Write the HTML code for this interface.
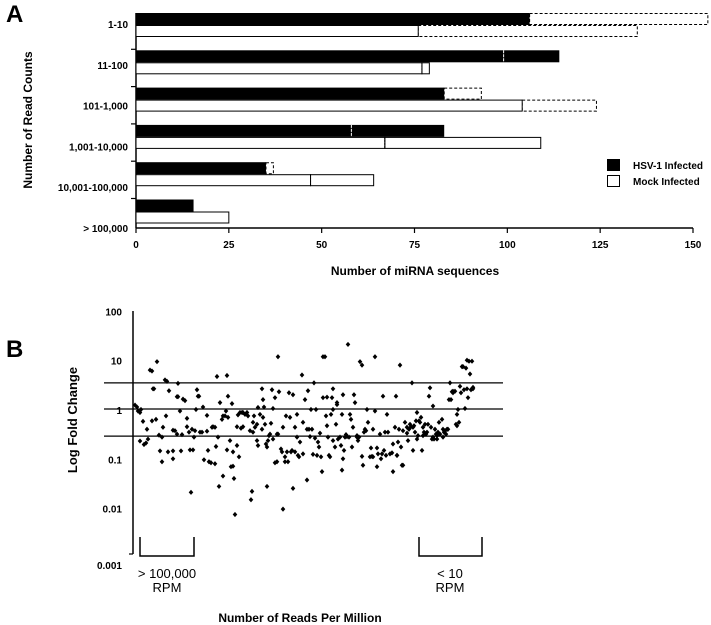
<!DOCTYPE html>
<html><head><meta charset="utf-8"><style>
body{margin:0;background:#fff;}
svg{display:block;font-family:"Liberation Sans",Arial,sans-serif;}
.lbl{font-family:"Liberation Sans Narrow","Liberation Sans",sans-serif;font-weight:bold;font-size:10px;}
</style></head><body>
<svg id="fig" width="711" height="625" viewBox="0 0 711 625">
<text x="6" y="22" font-size="24" font-weight="bold">A</text>
<text x="6" y="357" font-size="24" font-weight="bold">B</text>
<g id="pa"></g>
<g id="pb"></g>
</svg>
<script>
// ---------- Panel A data ----------
const categories = ["1-10","11-100","101-1,000","1,001-10,000","10,001-100,000","> 100,000"];
const hsvBase = [106, 99, 83, 58, 35, 15.5];
const hsvTotal = [154, 114, 93, 83, 37, 15.5];
const hsvExtDashed = [true, false, true, false, true, false];
const mockBase = [76, 77, 104, 67, 47, 25];
const mockTotal = [135, 79, 124, 109, 64, 25];
const mockExtDashed = [true, false, true, false, false, false];
const xTicks = [0, 25, 50, 75, 100, 125, 150];
// ---------- Panel B data ----------
const rpmRank = [2,4,5,7,8,7,10,11,13,14,15,17,19,20,21,19,23,24,26,27,29,29,30,32,34,33,35,36,40,40,40,42,44,44,45,45,47,48,49,50,52,54,54,56,57,58,59,60,61,62,63,64,65,66,67,69,70,71,74,74,75,76,78,79,80,82,82,83,84,85,86,87,89,90,90,92,93,94,94,95,95,97,98,99,100,100,101,102,104,104,105,106,107,108,109,110,110,112,114,115,117,118,119,120,120,121,122,124,124,125,125,127,129,129,130,130,131,132,133,134,134,135,136,137,138,139,140,140,142,142,144,144,145,145,146,148,149,150,150,152,152,153,154,155,156,157,158,159,160,160,162,162,164,164,165,166,167,169,170,170,172,174,174,175,176,177,178,179,180,181,182,183,184,185,186,187,188,189,190,190,192,193,194,194,195,196,197,198,199,200,200,200,202,203,204,204,205,207,208,209,209,210,210,211,212,213,214,215,216,217,218,219,220,221,222,224,224,225,226,227,229,229,230,231,232,233,234,235,237,238,239,240,240,242,242,244,244,245,247,248,249,250,251,252,253,254,255,257,259,260,260,262,263,264,264,265,266,267,268,269,270,270,272,274,274,275,276,277,278,279,280,280,281,282,283,284,284,285,286,287,288,289,290,290,291,292,293,294,295,296,297,298,299,300,300,301,302,303,304,304,305,306,307,309,310,310,311,312,313,314,315,316,317,318,319,320,320,322,323,324,324,325,326,327,328,329,330,331,332,333,334,334,335,336,337,338,339,340,340];
const log10Fold = [0.10,0.06,-0.02,-0.05,0.01,-0.63,-0.23,-0.70,-0.67,-0.39,-0.59,0.81,0.79,0.43,0.43,-0.22,-0.19,0.98,-0.51,-0.83,-1.05,-0.55,-0.35,0.61,0.58,-0.12,-0.85,0.39,-0.83,-0.99,-0.41,-0.42,-0.49,0.27,0.54,0.27,-0.02,-0.83,-0.50,0.22,0.19,-0.34,-0.17,-0.45,-0.81,-1.67,-0.39,-0.81,-0.55,-0.42,0.01,0.41,0.28,0.28,-0.45,-0.45,0.06,-1.01,-0.11,-0.43,-0.82,-1.05,-1.07,-0.35,-0.34,-1.09,-0.35,-0.74,0.68,-0.55,-1.55,0.15,-0.19,-1.34,-0.12,-0.12,-0.02,-0.81,0.70,0.28,-0.15,-0.62,-1.15,0.13,-1.14,-0.85,-1.39,-2.12,-0.34,-0.72,-0.10,-0.95,-0.05,-0.37,-0.05,-0.34,-0.05,-0.09,-0.05,-0.12,-0.42,-1.82,-1.65,-0.45,-0.25,-0.12,-0.35,-0.29,-0.62,0.05,-0.72,-0.09,0.43,-0.39,0.21,-0.15,0.06,-0.29,-0.69,-1.55,-0.75,-0.62,-0.52,-0.49,-0.27,0.41,0.03,-0.59,0.25,-1.07,-0.49,-1.05,1.08,-0.49,0.37,-0.79,-0.85,-2.01,-0.35,-0.95,-1.05,-0.12,-0.85,-1.05,0.35,-0.15,-0.85,-0.82,0.31,-1.59,-0.85,-0.35,-0.09,-0.55,-0.92,-0.95,-0.65,0.71,-0.89,-0.25,0.21,-0.39,-1.42,0.39,-0.39,-0.54,0.01,-0.39,-0.90,0.55,-0.57,0.01,-0.92,-0.65,-0.75,-0.47,-0.95,-1.25,0.25,1.08,1.08,-0.12,-0.32,0.26,-0.55,-0.92,-0.95,-0.09,0.25,0.01,0.43,-0.62,-0.75,-0.29,0.11,0.15,-0.59,-0.55,-0.72,-0.09,-1.22,-0.99,0.31,-0.82,-0.55,-0.50,-0.54,1.33,-0.55,-0.09,-0.19,-0.75,-0.35,0.31,0.15,-0.55,-0.52,-0.62,-0.55,0.98,-0.94,0.91,-1.12,-0.45,-0.39,-0.42,0.01,-0.25,-0.95,-0.77,-0.94,-0.39,-0.95,1.08,-0.02,-0.77,-1.15,-0.89,-0.49,-0.99,-0.89,0.28,-0.82,-0.45,-0.92,-0.09,-0.45,-0.89,-0.87,-1.25,-0.69,-0.35,0.28,-0.92,-0.92,-0.65,-0.39,0.91,-0.75,-1.12,-1.12,-0.42,-0.25,-0.47,-0.35,-0.62,-0.39,-0.29,-0.34,0.55,-0.35,-0.82,-0.32,-0.45,-0.22,-0.05,-0.59,-0.52,-0.22,-0.25,-0.15,-0.82,-0.35,-0.52,-0.45,-0.29,-0.49,-0.45,-0.29,0.28,0.45,-0.35,-0.59,-0.55,0.08,-0.59,-0.39,-0.49,-0.52,-0.59,-0.45,-0.25,-0.49,-0.19,-0.39,-0.55,-0.45,-0.42,-0.49,-0.39,-0.39,0.21,0.55,0.21,0.37,0.38,0.35,0.38,-0.29,-0.32,-0.09,0.01,-0.25,0.48,0.35,0.88,0.88,0.41,0.03,0.85,0.43,1.01,0.25,0.99,0.73,0.41,0.99,0.46,0.43];
const refLines = [0.55, 0.02, -0.53];
const yTickVals = [2, 1, 0, -1, -2, -3];
const yTickLabels = ["100","10","1","0.1","0.01","0.001"];

const NS = "http://www.w3.org/2000/svg";
function mk(parent, tag, attrs, text){
  const e = document.createElementNS(NS, tag);
  for (const k in attrs) e.setAttribute(k, attrs[k]);
  if (text !== undefined) e.textContent = text;
  parent.appendChild(e); return e;
}
// ---------- Panel A ----------
const pa = document.getElementById('pa');
const ax = v => 136 + v * (557 / 150);
const barTop = i => 13 + i * 37.3;
const BH = 12;
// y axis
let e = mk(pa,'line',{x1:136,y1:13,x2:136,y2:228,stroke:'#000','stroke-width':1.5});
 
e = mk(pa,'line',{x1:136,y1:228,x2:ax(150),y2:228,stroke:'#000','stroke-width':1.5});
 
xTicks.forEach(t=>{
  e = mk(pa,'line',{x1:ax(t),y1:228,x2:ax(t),y2:233,stroke:'#000','stroke-width':1.2});
   
  e = mk(pa,'text',{x:ax(t),y:248,'text-anchor':'middle','class':'lbl'},String(t));
   
});
categories.forEach((c,i)=>{
  if (i>0){
    e = mk(pa,'line',{x1:131,y1:barTop(i)-1,x2:136,y2:barTop(i)-1,stroke:'#000','stroke-width':1.2});
     
  }
  e = mk(pa,'text',{x:128,y:28+i*40.8,'text-anchor':'end','class':'lbl'},c);
   
  const y1 = barTop(i), y2 = barTop(i)+BH;
  // HSV extension
  if (hsvTotal[i] > hsvBase[i]){
    if (hsvExtDashed[i]){
      e = mk(pa,'rect',{x:ax(hsvBase[i]),y:y1+0.5,width:ax(hsvTotal[i])-ax(hsvBase[i]),height:BH-1,fill:'#fff',stroke:'#000','stroke-width':1,'stroke-dasharray':'3,2'});
    } else {
      e = mk(pa,'rect',{x:ax(hsvBase[i]),y:y1,width:ax(hsvTotal[i])-ax(hsvBase[i]),height:BH,fill:'#000'});
    }
     
  }
  e = mk(pa,'rect',{x:ax(0),y:y1,width:ax(hsvBase[i])-ax(0),height:BH,fill:'#000'});
   
  if (hsvTotal[i] > hsvBase[i] && !hsvExtDashed[i]){
    e = mk(pa,'line',{x1:ax(hsvBase[i]),y1:y1,x2:ax(hsvBase[i]),y2:y2,stroke:'#fff','stroke-width':1,'stroke-dasharray':'3,1'});
     
  }
  // Mock
  const m1 = y2, m2 = y2 + BH;
  if (mockTotal[i] > mockBase[i]){
    e = mk(pa,'rect',{x:ax(mockBase[i]),y:m1+0.5,width:ax(mockTotal[i])-ax(mockBase[i]),height:BH-1,fill:'#fff',stroke:'#000','stroke-width':1,'stroke-dasharray':mockExtDashed[i]?'3,2':'none'});
     
  }
  e = mk(pa,'rect',{x:ax(0),y:m1+0.5,width:ax(mockBase[i])-ax(0),height:BH-1,fill:'#fff',stroke:'#000','stroke-width':1});
   
  if (mockTotal[i] > mockBase[i] && !mockExtDashed[i]){
    e = mk(pa,'line',{x1:ax(mockBase[i]),y1:m1,x2:ax(mockBase[i]),y2:m2,stroke:'#000','stroke-width':1,'stroke-dasharray':'2,1'});
     
  }
});
e = mk(pa,'text',{x:32,y:120,'text-anchor':'middle','font-size':12,'font-weight':'bold',transform:'rotate(-90 32 120)'},'Number of Read Counts');
 
e = mk(pa,'text',{x:415,y:275,'text-anchor':'middle','font-size':12,'font-weight':'bold'},'Number of miRNA sequences');
 
e = mk(pa,'rect',{x:607,y:159,width:13,height:12,fill:'#000'});
 
e = mk(pa,'text',{x:633,y:169,'class':'lbl'},'HSV-1 Infected');
 
e = mk(pa,'rect',{x:607.5,y:175.5,width:12,height:11,fill:'#fff',stroke:'#000','stroke-width':1});
 
e = mk(pa,'text',{x:633,y:185,'class':'lbl'},'Mock Infected');
 

// ---------- Panel B ----------
const pb = document.getElementById('pb');
const bx = r => 133 + r;
const by = L => 410 - 49.3 * L;
e = mk(pb,'line',{x1:133,y1:311,x2:133,y2:554,stroke:'#000','stroke-width':1.5});
 
e = mk(pb,'line',{x1:129,y1:554,x2:133,y2:554,stroke:'#000','stroke-width':1.2});
 
yTickVals.forEach((v,i)=>{
  e = mk(pb,'text',{x:122,y:by(v)+4 + (i===5?7:0),'text-anchor':'end','font-size':10,'font-weight':'bold'},yTickLabels[i]);
   
});
refLines.forEach(L=>{
  e = mk(pb,'line',{x1:104,y1:by(L),x2:503,y2:by(L),stroke:'#000','stroke-width':1.2});
   
});
rpmRank.forEach((r,i)=>{
  const cx = bx(r), cy = by(log10Fold[i]);
  const p = mk(pb,'path',{d:`M${cx} ${cy-2.6}L${cx+2.3} ${cy}L${cx} ${cy+2.6}L${cx-2.3} ${cy}Z`,fill:'#000'});
  
  
});
e = mk(pb,'path',{d:'M140 537V556H194V537',fill:'none',stroke:'#000','stroke-width':1.5});
 
e = mk(pb,'path',{d:'M419 537V556H482V537',fill:'none',stroke:'#000','stroke-width':1.5});
 
e = mk(pb,'text',{x:167,y:578,'text-anchor':'middle','font-size':13},'> 100,000');
 
e = mk(pb,'text',{x:167,y:592,'text-anchor':'middle','font-size':13},'RPM');
 
e = mk(pb,'text',{x:450,y:578,'text-anchor':'middle','font-size':13},'< 10');
 
e = mk(pb,'text',{x:450,y:592,'text-anchor':'middle','font-size':13},'RPM');
 
e = mk(pb,'text',{x:300,y:622,'text-anchor':'middle','font-size':12,'font-weight':'bold'},'Number of Reads Per Million');
 
e = mk(pb,'text',{x:77,y:420,'text-anchor':'middle','font-size':13,'font-weight':'bold',transform:'rotate(-90 77 420)'},'Log Fold Change');
 
</script>
</body></html>
